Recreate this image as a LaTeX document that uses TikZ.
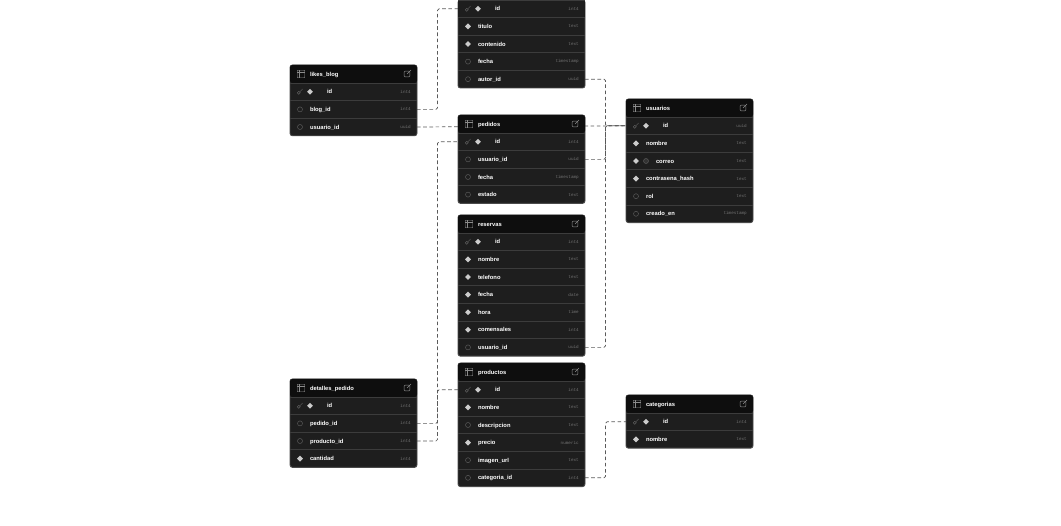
\documentclass[tikz,border=0pt]{standalone}
\usepackage{fontspec}
\setmainfont{Liberation Sans}
\setmonofont{Liberation Mono}
\usepackage{tikz}
\usetikzlibrary{
backgrounds,positioning,fit,shapes.geometric
}
\pgfdeclarelayer{framelayer}
\pgfsetlayers{background,framelayer,main}
\definecolor{rowfill}{HTML}{1E1E1E}
\definecolor{headfill}{HTML}{0E0E0E}
\definecolor{rowline}{HTML}{3C3C3C}
\definecolor{framecolor}{HTML}{4A4A4A}
\definecolor{iconline}{HTML}{8C8C8C}
\definecolor{linkline}{HTML}{5A5A5A}
\tikzset{
	inset/.style={
		execute at begin node={\hspace*{#1}}
	},
	%
	headbox/.style={
		rectangle, anchor=north west, minimum height=18pt, text width=127pt,
		inner xsep=0pt, outer sep=0pt, align=left, rounded corners=2.5pt,
		fill=headfill, text=white, text height=5pt, text depth=.8pt,
		font=\fontsize{5.8}{7}\selectfont\bfseries, inset=20pt,
		label={[tablemark,xshift=11pt]west:},
		label={[linkmark,xshift=-10pt]east:}
	},
	%
	dbrow/.style={
		rectangle, minimum height=17.6pt, text width=127pt,
		inner xsep=0pt, outer sep=0pt, align=left,
		text=white, text height=5pt, text depth=.8pt,
		font=\fontsize{5.8}{7}\selectfont\bfseries,
		append after command={
			(\tikzlastnode.north west) edge[draw=rowline, line width=.7pt] (\tikzlastnode.north east)
		}
	},
	%
	tableframe/.style={
		rectangle, inner sep=0pt, outer sep=0pt, rounded corners=2.5pt,
		draw=framecolor, line width=.9pt, fill=rowfill
	},
	%
	typetext/.style={
		anchor=east, xshift=-6pt, inner sep=0pt, text=white!45!black,
		font=\fontsize{4.3}{5}\selectfont\ttfamily
	},
	%
	diamondmark/.style={
		diamond, anchor=center, fill=white!80!black, minimum size=6pt, inner sep=0pt
	},
	%
	nullmark/.style={
		circle, anchor=center, draw=white!35!black, line width=.5pt, minimum size=5pt, inner sep=0pt
	},
	%
	uniquemark/.style={
		circle, anchor=center, draw=white!35!black, fill=white!20!black, line width=.5pt, minimum size=5pt, inner sep=0pt
	},
	%
	keymark/.style={
		circle, anchor=center, draw=white!40!black, line width=.4pt, minimum size=3pt, inner sep=0pt,
		xshift=-1.2pt, yshift=-1pt,
		append after command={
			(\tikzlastnode.45) edge[draw=white!40!black, line width=.4pt] ++(2.6,-2.6)
		}
	},
	%
	tablemark/.style={
		rectangle, anchor=center, draw=iconline, line width=.45pt, minimum size=7.5pt, inner sep=0pt,
		rounded corners=.8pt,
		append after command={
			([yshift=-2pt]\tikzlastnode.north west) edge[draw=iconline, line width=.4pt] ([yshift=-2pt]\tikzlastnode.north east)
			([xshift=2.4pt]\tikzlastnode.north west) edge[draw=iconline, line width=.4pt] ([xshift=2.4pt]\tikzlastnode.south west)
		}
	},
	%
	linkmark/.style={
		rectangle, anchor=center, draw=iconline, line width=.5pt, minimum size=5.6pt, inner sep=0pt,
		rounded corners=.8pt,
		append after command={
			(\tikzlastnode.center) edge[draw=iconline, line width=.5pt] ++(4,-4)
		}
	},
	%
	nnrow/.style={
		inset=20pt, label={[diamondmark,xshift=10pt]west:}
	},
	%
	nullrow/.style={
		inset=20pt, label={[nullmark,xshift=10pt]west:}
	},
	%
	pkrow/.style={
		inset=37pt, label={[keymark,xshift=10pt]west:}, label={[diamondmark,xshift=20pt]west:}
	},
	%
	uqrow/.style={
		inset=30pt, label={[diamondmark,xshift=10pt]west:}, label={[uniquemark,xshift=20pt]west:}
	},
	%
	relation/.style={
		draw=linkline, line width=.7pt, dash pattern=on 3.6pt off 2.6pt, rounded corners=1.5pt
	}
}
\newcommand{\dbcol}[5]{\node (#1) [dbrow,#3row,below=0pt of #2,label={[typetext]east:#5}] {#4};}
\newcommand{\dbframe}[2]{\begin{pgfonlayer}{framelayer}\node (#1_frame) [tableframe,fit=(#1)(#2)] {};\end{pgfonlayer}}
\begin{document}
\begin{tikzpicture}[x=1pt,y=-1pt]
\path[use as bounding box,clip] (0,0) rectangle (1061,526);

%blogs, its head is off the page
\coordinate (blogs) at (521.5,0);
\dbcol{blogs_id}{blogs}{pk}{id}{int4}
\dbcol{blogs_titulo}{blogs_id}{nn}{titulo}{text}
\dbcol{blogs_contenido}{blogs_titulo}{nn}{contenido}{text}
\dbcol{blogs_fecha}{blogs_contenido}{null}{fecha}{timestamp}
\dbcol{blogs_autor_id}{blogs_fecha}{null}{autor\_id}{uuid}
\begin{pgfonlayer}{framelayer}
\node (blogs_frame) [tableframe,fit=(blogs_id)(blogs_autor_id)] {};
\fill[rowfill] (blogs_id.north west) rectangle (blogs_id.south east);
\end{pgfonlayer}

%likes_blog
\node (likes_blog) [headbox] at (290,65) {likes\_blog};
\dbcol{likes_id}{likes_blog}{pk}{id}{int4}
\dbcol{likes_blog_id}{likes_id}{null}{blog\_id}{int4}
\dbcol{likes_usuario_id}{likes_blog_id}{null}{usuario\_id}{uuid}
\dbframe{likes_blog}{likes_usuario_id}

%pedidos
\node (pedidos) [headbox] at (458,115) {pedidos};
\dbcol{pedidos_id}{pedidos}{pk}{id}{int4}
\dbcol{pedidos_usuario_id}{pedidos_id}{null}{usuario\_id}{uuid}
\dbcol{pedidos_fecha}{pedidos_usuario_id}{null}{fecha}{timestamp}
\dbcol{pedidos_estado}{pedidos_fecha}{null}{estado}{text}
\dbframe{pedidos}{pedidos_estado}

%usuarios
\node (usuarios) [headbox] at (626,99) {usuarios};
\dbcol{usuarios_id}{usuarios}{pk}{id}{uuid}
\dbcol{usuarios_nombre}{usuarios_id}{nn}{nombre}{text}
\dbcol{usuarios_correo}{usuarios_nombre}{uq}{correo}{text}
\dbcol{usuarios_hash}{usuarios_correo}{nn}{contrasena\_hash}{text}
\dbcol{usuarios_rol}{usuarios_hash}{null}{rol}{text}
\dbcol{usuarios_creado}{usuarios_rol}{null}{creado\_en}{timestamp}
\dbframe{usuarios}{usuarios_creado}

%reservas
\node (reservas) [headbox] at (458,215) {reservas};
\dbcol{reservas_id}{reservas}{pk}{id}{int4}
\dbcol{reservas_nombre}{reservas_id}{nn}{nombre}{text}
\dbcol{reservas_telefono}{reservas_nombre}{nn}{telefono}{text}
\dbcol{reservas_fecha}{reservas_telefono}{nn}{fecha}{date}
\dbcol{reservas_hora}{reservas_fecha}{nn}{hora}{time}
\dbcol{reservas_comensales}{reservas_hora}{nn}{comensales}{int4}
\dbcol{reservas_usuario_id}{reservas_comensales}{null}{usuario\_id}{uuid}
\dbframe{reservas}{reservas_usuario_id}

%productos
\node (productos) [headbox] at (458,363) {productos};
\dbcol{productos_id}{productos}{pk}{id}{int4}
\dbcol{productos_nombre}{productos_id}{nn}{nombre}{text}
\dbcol{productos_descripcion}{productos_nombre}{null}{descripcion}{text}
\dbcol{productos_precio}{productos_descripcion}{nn}{precio}{numeric}
\dbcol{productos_imagen}{productos_precio}{null}{imagen\_url}{text}
\dbcol{productos_categoria_id}{productos_imagen}{null}{categoria\_id}{int4}
\dbframe{productos}{productos_categoria_id}

%categorias
\node (categorias) [headbox] at (626,395) {categorias};
\dbcol{categorias_id}{categorias}{pk}{id}{int4}
\dbcol{categorias_nombre}{categorias_id}{nn}{nombre}{text}
\dbframe{categorias}{categorias_nombre}

%detalles_pedido
\node (detalles) [headbox] at (290,379) {detalles\_pedido};
\dbcol{detalles_id}{detalles}{pk}{id}{int4}
\dbcol{detalles_pedido_id}{detalles_id}{null}{pedido\_id}{int4}
\dbcol{detalles_producto_id}{detalles_pedido_id}{null}{producto\_id}{int4}
\dbcol{detalles_cantidad}{detalles_producto_id}{nn}{cantidad}{int4}
\dbframe{detalles}{detalles_cantidad}

%relations
\begin{pgfonlayer}{background}
\draw[relation] (likes_blog_id.east) -- ++(20.5,0) |- (blogs_id.west);
\draw[relation] (likes_usuario_id.east) -- (usuarios_id.west);
\draw[relation] (blogs_autor_id.east) -- ++(20.5,0) |- (usuarios_id.west);
\draw[relation] (pedidos_usuario_id.east) -- ++(20.5,0) |- (usuarios_id.west);
\draw[relation] (reservas_usuario_id.east) -- ++(20.5,0) |- (usuarios_id.west);
\draw[relation] (detalles_pedido_id.east) -- ++(20.5,0) |- (pedidos_id.west);
\draw[relation] (detalles_producto_id.east) -- ++(20.5,0) |- (productos_id.west);
\draw[relation] (productos_categoria_id.east) -- ++(20.5,0) |- (categorias_id.west);
\end{pgfonlayer}
\end{tikzpicture}
\end{document}
